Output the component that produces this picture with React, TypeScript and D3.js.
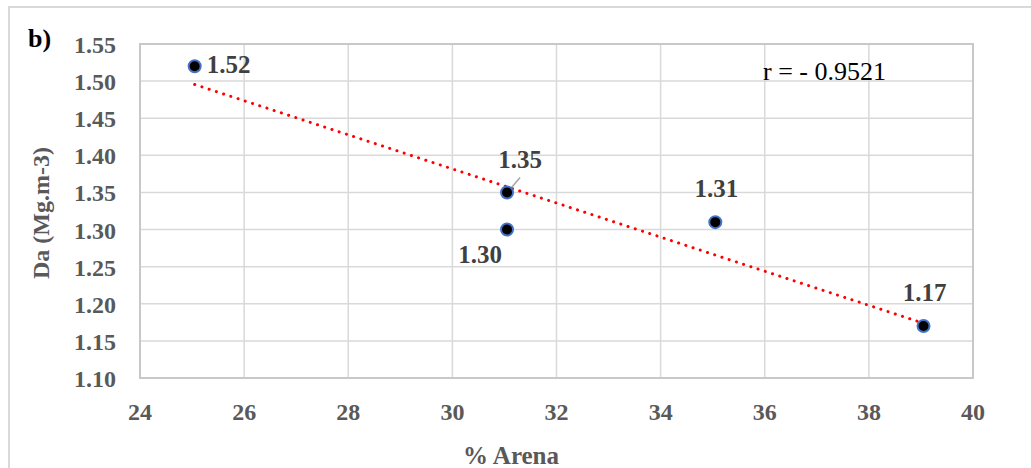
import { useEffect, useRef } from 'react';
import * as d3 from 'd3';

// sand % vs bulk density
const arena = [25.05, 31.05, 31.05, 35.05, 39.05];
const da = [1.52, 1.35, 1.3, 1.31, 1.17];
const labels = ['1.52', '1.35', '1.30', '1.31', '1.17'];
// where each data label sits relative to its point
const labelPos = ['right', 'above-leader', 'below-left', 'above', 'above'];

const xTicks = [24, 26, 28, 30, 32, 34, 36, 38, 40];
const yTicks = [1.1, 1.15, 1.2, 1.25, 1.3, 1.35, 1.4, 1.45, 1.5, 1.55];

const W = 1031;
const H = 468;
const FONT = "'Liberation Serif', serif";

const App = () => {
  const svgRef = useRef<SVGSVGElement>(null);

  useEffect(() => {
    const svg = d3.select(svgRef.current);
    svg.selectAll('*').remove();

    const margin = { top: 44, right: 58, bottom: 90, left: 140 };
    const width = W - margin.left - margin.right;
    const height = H - margin.top - margin.bottom;

    // outer chart frame
    svg.append('rect')
      .attr('x', 9).attr('y', 7)
      .attr('width', W + 10).attr('height', H + 10)
      .attr('fill', '#fff')
      .attr('stroke', '#d9d9d9')
      .attr('stroke-width', 2);

    const g = svg.append('g').attr('transform', `translate(${margin.left},${margin.top})`);

    const x = d3.scaleLinear().domain([24, 40]).range([0, width]);
    const y = d3.scaleLinear().domain([1.1, 1.55]).range([height, 0]);

    // gridlines
    g.append('g')
      .selectAll('line')
      .data(xTicks)
      .enter()
      .append('line')
      .attr('x1', d => x(d)).attr('x2', d => x(d))
      .attr('y1', 0).attr('y2', height)
      .attr('stroke', '#d9d9d9')
      .attr('stroke-width', 1.5);

    g.append('g')
      .selectAll('line')
      .data(yTicks)
      .enter()
      .append('line')
      .attr('x1', 0).attr('x2', width)
      .attr('y1', d => y(d)).attr('y2', d => y(d))
      .attr('stroke', '#d9d9d9')
      .attr('stroke-width', 1.5);

    g.append('rect')
      .attr('width', width).attr('height', height)
      .attr('fill', 'none')
      .attr('stroke', '#c8c8c8')
      .attr('stroke-width', 2);

    // tick labels
    g.append('g')
      .selectAll('text')
      .data(xTicks)
      .enter()
      .append('text')
      .attr('x', d => x(d))
      .attr('y', height + 42)
      .attr('text-anchor', 'middle')
      .attr('font-family', FONT)
      .attr('font-weight', 'bold')
      .attr('font-size', '24px')
      .attr('fill', '#595959')
      .text(d => d);

    g.append('g')
      .selectAll('text')
      .data(yTicks)
      .enter()
      .append('text')
      .attr('x', -24)
      .attr('y', d => y(d) + 9)
      .attr('text-anchor', 'end')
      .attr('font-family', FONT)
      .attr('font-weight', 'bold')
      .attr('font-size', '24px')
      .attr('fill', '#595959')
      .text(d => d3.format('.2f')(d));

    // axis titles
    svg.append('text')
      .attr('x', 511)
      .attr('y', 464)
      .attr('text-anchor', 'middle')
      .attr('font-family', FONT)
      .attr('font-weight', 'bold')
      .attr('font-size', '25px')
      .attr('fill', '#595959')
      .text('% Arena');

    svg.append('text')
      .attr('transform', 'translate(49,213) rotate(-90)')
      .attr('text-anchor', 'middle')
      .attr('font-family', FONT)
      .attr('font-weight', 'bold')
      .attr('font-size', '24px')
      .attr('fill', '#595959')
      .text('Da (Mg.m-3)');

    svg.append('text')
      .attr('x', 28).attr('y', 47)
      .attr('font-family', FONT)
      .attr('font-weight', 'bold')
      .attr('font-size', '26px')
      .attr('fill', '#000')
      .text('b)');

    // linear trend line (least squares)
    const mx = d3.mean(arena) as number;
    const my = d3.mean(da) as number;
    const sxy = d3.sum(arena, (v, i) => (v - mx) * (da[i] - my));
    const sxx = d3.sum(arena, v => (v - mx) ** 2);
    const slope = sxy / sxx;
    const icpt = my - slope * mx;
    const x0 = d3.min(arena) as number;
    const x1 = d3.max(arena) as number;

    g.append('line')
      .attr('x1', x(x0)).attr('y1', y(icpt + slope * x0))
      .attr('x2', x(x1)).attr('y2', y(icpt + slope * x1))
      .attr('stroke', '#ff0000')
      .attr('stroke-width', 3)
      .attr('stroke-linecap', 'round')
      .attr('stroke-dasharray', '0.1,7.5');

    svg.append('text')
      .attr('x', 763).attr('y', 80)
      .attr('font-family', FONT)
      .attr('font-size', '26px')
      .attr('fill', '#000')
      .text('r = - 0.9521');

    // leader line for 1.35
    g.append('line')
      .attr('x1', x(arena[1]) + 2).attr('y1', y(da[1]) - 2)
      .attr('x2', x(arena[1]) + 13).attr('y2', y(da[1]) - 15)
      .attr('stroke', '#a6a6a6')
      .attr('stroke-width', 1.5);

    // points
    g.append('g')
      .selectAll('circle')
      .data(arena)
      .enter()
      .append('circle')
      .attr('cx', d => x(d))
      .attr('cy', (d, i) => y(da[i]))
      .attr('r', 6)
      .attr('fill', '#000')
      .attr('stroke', '#4472c4')
      .attr('stroke-width', 2);

    // data labels
    const off: Record<string, [number, number, string]> = {
      'right': [12, 7, 'start'],
      'above-leader': [13, -24, 'middle'],
      'above': [1, -25, 'middle'],
      'below-left': [-27, 33, 'middle'],
    };
    g.append('g')
      .selectAll('text')
      .data(labels)
      .enter()
      .append('text')
      .attr('x', (d, i) => x(arena[i]) + off[labelPos[i]][0])
      .attr('y', (d, i) => y(da[i]) + off[labelPos[i]][1])
      .attr('text-anchor', (d, i) => off[labelPos[i]][2])
      .attr('font-family', FONT)
      .attr('font-weight', 'bold')
      .attr('font-size', '25px')
      .attr('fill', '#404040')
      .text(d => d);
  }, []);

  return (
    <div style={{ position: 'absolute', left: 0, top: 0, width: W, height: H, background: '#fff' }}>
      <svg ref={svgRef} width={W} height={H} style={{ display: 'block' }} />
    </div>
  );
};

export default App;
